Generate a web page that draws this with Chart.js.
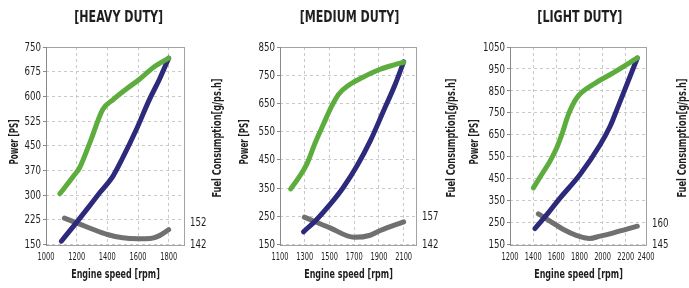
<!DOCTYPE html>
<html>
<head>
<meta charset="utf-8">
<script src="https://cdn.jsdelivr.net/npm/chart.js@4/dist/chart.umd.min.js"></script>
<style>
  html, body { margin: 0; padding: 0; background: #ffffff; }
  #wrap { position: relative; width: 689px; height: 288px; overflow: hidden; }
  canvas { position: absolute; top: 0; }
</style>
</head>
<body>
<div id="wrap">
  <canvas id="c1" width="230" height="288" style="left:0px"></canvas>
  <canvas id="c2" width="230" height="288" style="left:230px"></canvas>
  <canvas id="c3" width="229" height="288" style="left:460px"></canvas>
</div>
<script>
// ---------------- DATA ----------------
const titles = ['[HEAVY DUTY]', '[MEDIUM DUTY]', '[LIGHT DUTY]'];
const xTitle = 'Engine speed [rpm]';
const yTitle = 'Power [PS]';
const y2Title = 'Fuel Consumption[g/ps.h]';

// HEAVY DUTY
const heavyGreenRpm   = [1090, 1180, 1220, 1290, 1370, 1440, 1520, 1610, 1700, 1800];
const heavyGreenPower = [304, 358, 384, 464, 560, 591, 621, 652, 688, 716];
const heavyBlueRpm    = [1100, 1180, 1265, 1350, 1437, 1500, 1590, 1675, 1740, 1800];
const heavyBluePower  = [160, 206, 256, 307, 358, 413, 500, 591, 652, 716];
const heavyFuelRpm    = [1120, 1220, 1300, 1400, 1500, 1600, 1680, 1740, 1800];
const heavyFuel       = [153.9, 151.2, 149.0, 146.5, 145.0, 144.6, 144.7, 146.0, 148.7];
const heavyXTicks     = [1000, 1200, 1400, 1600, 1800];
const heavyXLabels    = ['1000', '1200', '1400', '1600', '1800'];
const heavyYTicks     = [150, 225, 300, 375, 450, 525, 600, 675, 750];
const heavyYLabels    = ['150', '225', '300', '370', '450', '525', '600', '675', '750'];
const heavyFuelTicks  = [142, 152];
const heavyFuelLabels = ['142', '152'];

// MEDIUM DUTY
const mediumGreenRpm   = [1187, 1250, 1316, 1384, 1451, 1519, 1573, 1667, 1775, 1911, 2018, 2100];
const mediumGreenPower = [347, 386, 434, 510, 576, 641, 682, 718, 744, 771, 786, 796];
const mediumBlueRpm    = [1290, 1397, 1505, 1613, 1722, 1830, 1937, 2032, 2100];
const mediumBluePower  = [195, 239, 292, 353, 428, 517, 623, 718, 797];
const mediumFuelRpm    = [1297, 1505, 1700, 1830, 1911, 2100];
const mediumFuel       = [156.5, 150.8, 145.8, 146.9, 149.4, 154.0];
const mediumXTicks     = [1100, 1300, 1500, 1700, 1900, 2100];
const mediumXLabels    = ['1100', '1300', '1500', '1700', '1900', '2100'];
const mediumYTicks     = [150, 250, 350, 450, 550, 650, 750, 850];
const mediumYLabels    = ['150', '250', '350', '450', '550', '650', '750', '850'];
const mediumFuelTicks  = [142, 157];
const mediumFuelLabels = ['142', '157'];

// LIGHT DUTY
const lightGreenRpm   = [1402, 1474, 1546, 1604, 1648, 1705, 1778, 1921, 2095, 2300];
const lightGreenPower = [408, 469, 530, 591, 652, 743, 819, 880, 933, 1000];
const lightBlueRpm    = [1415, 1520, 1630, 1805, 1980, 2066, 2120, 2210, 2300];
const lightBluePower  = [222, 287, 360, 469, 606, 690, 760, 880, 1000];
const lightFuelRpm    = [1445, 1546, 1662, 1778, 1887, 1979, 2095, 2300];
const lightFuel       = [166.3, 161.2, 155.4, 151.2, 149.2, 150.8, 153.1, 157.7];
const lightXTicks     = [1200, 1400, 1600, 1800, 2000, 2200, 2400];
const lightXLabels    = ['1200', '1400', '1600', '1800', '2000', '2200', '2400'];
const lightYTicks     = [150, 250, 350, 450, 550, 650, 750, 850, 950, 1050];
const lightYLabels    = ['150', '250', '350', '450', '550', '650', '750', '850', '950', '1050'];
const lightFuelTicks  = [145, 160];
const lightFuelLabels = ['145', '160'];

// ---------------- STYLE ----------------
const FONT = '"DejaVu Sans Condensed", "DejaVu Sans", sans-serif';
const GREEN = '#5cad3d';
const BLUE = '#2e2a7b';
const GRAY = '#707070';
const TEXT = '#1e1e1e';

function pts(xs, ys) { return xs.map((x, i) => ({ x: x, y: ys[i] })); }

// draw condensed real text
function txt(ctx, s, x, y, font, align, base, sx, rot) {
  ctx.save();
  ctx.translate(x, y);
  if (rot) ctx.rotate(rot);
  ctx.scale(sx, 1);
  ctx.font = font;
  ctx.textAlign = align;
  ctx.textBaseline = base;
  ctx.fillStyle = TEXT;
  ctx.fillText(s, 0, 0);
  ctx.restore();
}

const framePlugin = {
  id: 'frame',
  beforeDatasetsDraw(chart) {
    const a = chart.chartArea, ctx = chart.ctx;
    const L = Math.round(a.left), T = Math.round(a.top), R = Math.round(a.right), B = Math.round(a.bottom);
    ctx.save();
    ctx.setLineDash([]);
    ctx.lineWidth = 1;
    ctx.strokeStyle = '#a3a3a3';
    ctx.strokeRect(L + 0.5, T + 0.5, R - L, B - T);
    ctx.strokeStyle = '#8a8a8a';
    ctx.beginPath();
    ctx.moveTo(L + 0.5, T);
    ctx.lineTo(L + 0.5, B + 1);
    ctx.stroke();
    ctx.restore();
  },
  afterDraw(chart) {
    const a = chart.chartArea, ctx = chart.ctx;
    const cfg = chart.options.plugins.frame;
    const sx = chart.scales.x, sy = chart.scales.y, s2 = chart.scales.y2;
    // title
    txt(ctx, cfg.title, cfg.titleX, 21.6, 'bold 16px ' + FONT, 'center', 'alphabetic', 0.77, 0);
    // y ticks
    sy.ticks.forEach(t => {
      txt(ctx, t.txt, a.left - 5, sy.getPixelForValue(t.value) + 0.5, '12px ' + FONT, 'right', 'middle', 0.8, 0);
    });
    // y2 ticks
    s2.ticks.forEach(t => {
      txt(ctx, t.txt, a.right + 6, s2.getPixelForValue(t.value) + 0.5, '12px ' + FONT, 'left', 'middle', 0.8, 0);
    });
    // x ticks
    sx.ticks.forEach(t => {
      const px = Math.min(sx.getPixelForValue(t.value), a.right);
      txt(ctx, t.txt, px, 257, '10px ' + FONT, 'center', 'middle', 0.74, 0);
    });
    // axis titles
    txt(ctx, xTitle, (a.left + a.right) / 2 + 0.5, 278, 'bold 12px ' + FONT, 'center', 'alphabetic', 0.74, 0);
    txt(ctx, yTitle, 15, 142, 'bold 12px ' + FONT, 'center', 'middle', 0.67, -Math.PI / 2);
    txt(ctx, y2Title, a.right + cfg.y2Off, 138, 'bold 12px ' + FONT, 'center', 'middle', 0.76, -Math.PI / 2);
  }
};

function makeChart(id, cfg) {
  const ctx = document.getElementById(id);
  return new Chart(ctx, {
    type: 'line',
    data: {
      datasets: [
        { data: pts(cfg.greenX, cfg.greenY), borderColor: GREEN, yAxisID: 'y' },
        { data: pts(cfg.blueX, cfg.blueY), borderColor: BLUE, yAxisID: 'y' },
        { data: pts(cfg.fuelX, cfg.fuelY), borderColor: GRAY, yAxisID: 'y2' }
      ]
    },
    options: {
      responsive: false,
      animation: false,
      devicePixelRatio: 1,
      layout: { padding: { top: 47, left: 0, right: 0, bottom: 0 } },
      elements: {
        line: { borderWidth: 5, cubicInterpolationMode: 'monotone', borderCapStyle: 'round', borderJoinStyle: 'round', fill: false },
        point: { radius: 0, hoverRadius: 0 }
      },
      plugins: {
        legend: { display: false },
        tooltip: { enabled: false },
        title: { display: false },
        frame: { title: cfg.title, titleX: cfg.titleX, y2Off: cfg.y2Off }
      },
      scales: {
        x: {
          type: 'linear', min: cfg.xMin, max: cfg.xMax,
          afterFit: s => { s.height = 43.5; },
          afterBuildTicks: s => { s.ticks = cfg.xTicks.map((v, i) => ({ value: Math.min(v, cfg.xMax), txt: cfg.xLabels[i] })); },
          ticks: { display: false },
          grid: { color: '#c9c9c9', drawTicks: false },
          border: { display: false, dash: [3, 3] }
        },
        y: {
          type: 'linear', position: 'left', min: cfg.yTicks[0], max: cfg.yTicks[cfg.yTicks.length - 1],
          afterFit: s => { s.width = cfg.left; },
          afterBuildTicks: s => { s.ticks = cfg.yTicks.map((v, i) => ({ value: v, txt: cfg.yLabels[i] })); },
          ticks: { display: false },
          grid: { color: '#c9c9c9', tickLength: 3, tickColor: '#8a8a8a', tickBorderDash: [] },
          border: { display: false, dash: [3, 3] }
        },
        y2: {
          type: 'linear', position: 'right', min: cfg.fuelTicks[0], max: cfg.fuelMax,
          afterFit: s => { s.width = cfg.right; },
          afterBuildTicks: s => { s.ticks = cfg.fuelTicks.map((v, i) => ({ value: v, txt: cfg.fuelLabels[i] })); },
          ticks: { display: false },
          grid: { display: false, drawTicks: false },
          border: { display: false }
        }
      }
    },
    plugins: [framePlugin]
  });
}

makeChart('c1', {
  title: titles[0], titleX: 118.7, y2Off: 34, left: 46, right: 46,
  xMin: 1000, xMax: 1900, xTicks: heavyXTicks, xLabels: heavyXLabels,
  yTicks: heavyYTicks, yLabels: heavyYLabels,
  fuelTicks: heavyFuelTicks, fuelLabels: heavyFuelLabels, fuelMax: 231,
  greenX: heavyGreenRpm, greenY: heavyGreenPower,
  blueX: heavyBlueRpm, blueY: heavyBluePower,
  fuelX: heavyFuelRpm, fuelY: heavyFuel
});
makeChart('c2', {
  title: titles[1], titleX: 119.5, y2Off: 36, left: 50, right: 44,
  xMin: 1100, xMax: 2200, xTicks: mediumXTicks, xLabels: mediumXLabels,
  yTicks: mediumYTicks, yLabels: mediumYLabels,
  fuelTicks: mediumFuelTicks, fuelLabels: mediumFuelLabels, fuelMax: 246.6,
  greenX: mediumGreenRpm, greenY: mediumGreenPower,
  blueX: mediumBlueRpm, blueY: mediumBluePower,
  fuelX: mediumFuelRpm, fuelY: mediumFuel
});
makeChart('c3', {
  title: titles[2], titleX: 119.8, y2Off: 37, left: 50, right: 43,
  xMin: 1200, xMax: 2375, xTicks: lightXTicks, xLabels: lightXLabels,
  yTicks: lightYTicks, yLabels: lightYLabels,
  fuelTicks: lightFuelTicks, fuelLabels: lightFuelLabels, fuelMax: 282,
  greenX: lightGreenRpm, greenY: lightGreenPower,
  blueX: lightBlueRpm, blueY: lightBluePower,
  fuelX: lightFuelRpm, fuelY: lightFuel
});
</script>
</body>
</html>
